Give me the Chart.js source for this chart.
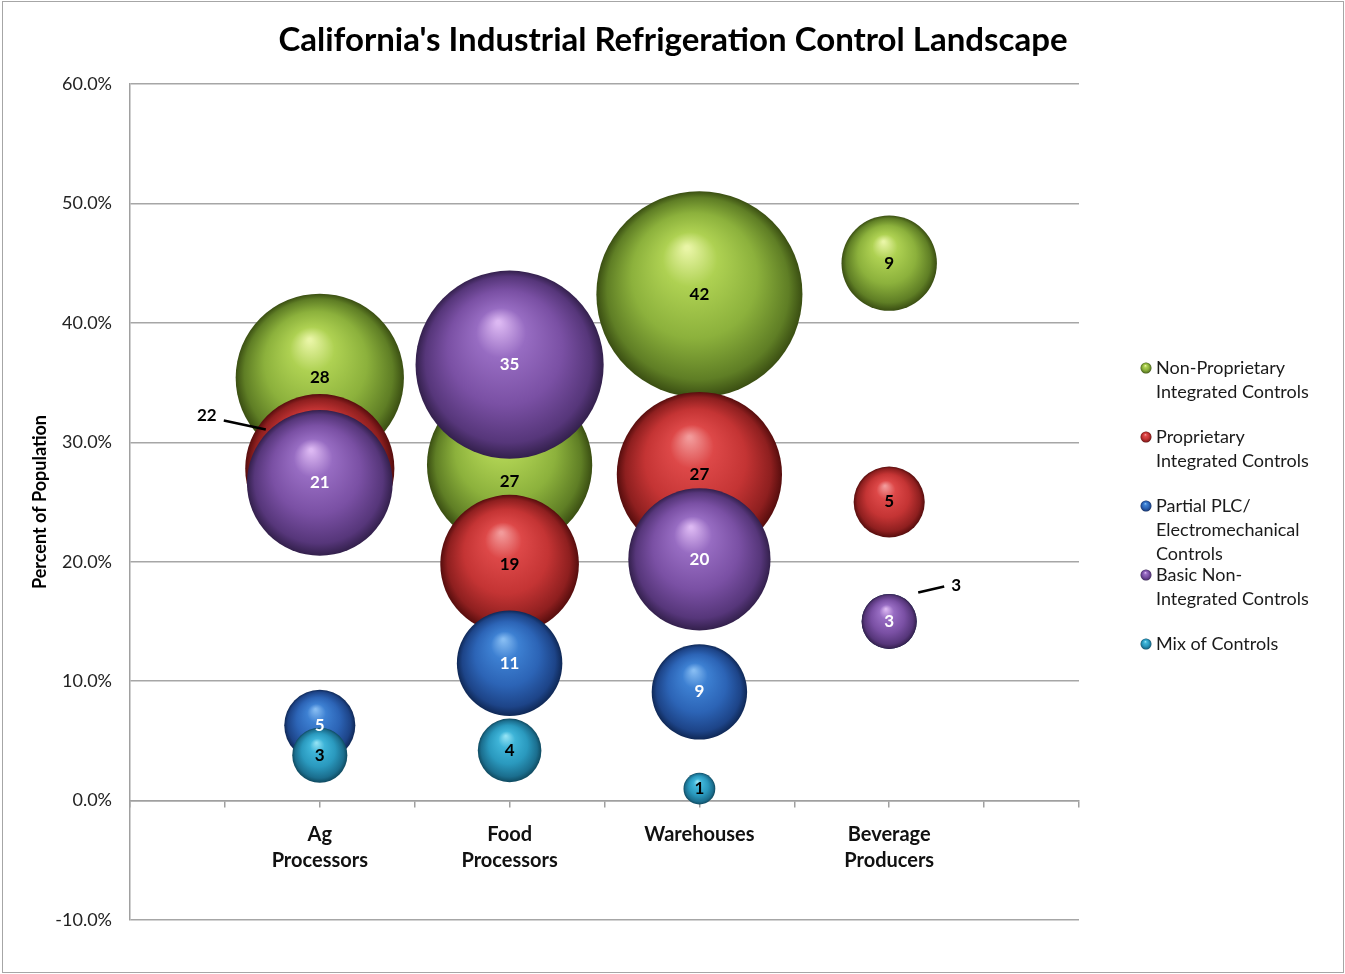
<!DOCTYPE html>
<html>
<head>
<meta charset="utf-8">
<script src="https://cdn.jsdelivr.net/npm/chart.js@4/dist/chart.umd.min.js"></script>
<style>
  html, body { margin: 0; padding: 0; background: #fff; }
  canvas { display: block; }
</style>
</head>
<body>
<canvas id="bubbleChart" width="1345" height="974"></canvas>
<script>
// categories sit at x = 1..4
const chartTitle = "California's Industrial Refrigeration Control Landscape";
const categories = [['Ag', 'Processors'], ['Food', 'Processors'], ['Warehouses'], ['Beverage', 'Producers']];
const seriesNames = [
    ['Non-Proprietary', 'Integrated Controls'],
    ['Proprietary', 'Integrated Controls'],
    ['Partial PLC/', 'Electromechanical', 'Controls'],
    ['Basic Non-', 'Integrated Controls'],
    ['Mix of Controls']
];

// counts (bubble size) and percent of population (y)
const nonPropCount = [28, 27, 42, 9];
const nonPropPct = [35.4, 28.1, 42.4, 45.0];
const propCount = [22, 19, 27, 5];
const propPct = [27.8, 19.8, 27.3, 25.0];
const plcCount = [5, 11, 9, 3];
const plcPct = [6.3, 11.5, 9.1, 15.0];
const basicCount = [21, 35, 20, 3];
const basicPct = [26.6, 36.5, 20.2, 15.0];
const mixCount = [3, 4, 1, null];
const mixPct = [3.8, 4.2, 1.0, null];

const yTicks = [-10, 0, 10, 20, 30, 40, 50, 60];

const palettes = [
    { hi: '#e9f5a6', light: '#aed152', base: '#8cb13c', dark: '#5f7e25', edge: '#3a4e12', text: '#000' },
    { hi: '#f29a9a', light: '#dd4848', base: '#c43434', dark: '#8e1f1f', edge: '#560d0d', text: '#000' },
    { hi: '#86bcf2', light: '#3d80d2', base: '#2c64b6', dark: '#1d4488', edge: '#0f2856', text: '#fff' },
    { hi: '#dcb8f2', light: '#976cc2', base: '#7a50a4', dark: '#56367a', edge: '#33204c', text: '#fff' },
    { hi: '#92e2f4', light: '#3eb4d8', base: '#2a99be', dark: '#1b6e8e', edge: '#0f4a60', text: '#000' }
];

const counts = [nonPropCount, propCount, plcCount, basicCount, mixCount];
const pcts = [nonPropPct, propPct, plcPct, basicPct, mixPct];

const PX_PER_ROOT = 15.9;
function bubbleRadius(count) {
    return PX_PER_ROOT * Math.sqrt(count);
}

function sphereGradient(ctx2d, cx, cy, r, pal) {
    const g = ctx2d.createRadialGradient(cx - r * 0.12, cy - r * 0.45, r * 0.02, cx, cy, r);
    g.addColorStop(0, pal.hi);
    g.addColorStop(0.25, pal.light);
    g.addColorStop(0.6, pal.base);
    g.addColorStop(0.88, pal.dark);
    g.addColorStop(1, pal.edge);
    return g;
}

function buildPoints(countArr, pctArr) {
    const pts = [];
    countArr.forEach((c, i) => {
        if (c == null) return;
        pts.push({ x: i + 1, y: pctArr[i], count: c });
    });
    return pts;
}

const datasets = seriesNames.map((name, s) => ({
    label: name.join(' '),
    data: buildPoints(counts[s], pcts[s]),
    order: 5 - s,
    borderWidth: 0,
    radius: ctx => ctx.raw ? bubbleRadius(ctx.raw.count) : 0,
    hoverRadius: 0,
    clip: false,
    backgroundColor: ctx => {
        const chart = ctx.chart;
        const xs = chart.scales.x, ys = chart.scales.y;
        if (!ctx.raw || !xs || !ys) return palettes[s].base;
        const cx = xs.getPixelForValue(ctx.raw.x);
        const cy = ys.getPixelForValue(ctx.raw.y);
        const r = bubbleRadius(ctx.raw.count);
        if (!Number.isFinite(cx) || !Number.isFinite(cy) || !Number.isFinite(r)) return palettes[s].base;
        return sphereGradient(chart.ctx, cx, cy, r, palettes[s]);
    }
}));

// labels that were moved off their bubble (dataset index : point index)
const callouts = {
    '1:0': { dx: -113, dy: -53, line: [-96, -48, -54, -39] },
    '2:3': { dx: 67, dy: -36, line: [29, -29, 55, -35] },
    '0:1': { dx: 0, dy: 17 }
};

const bubbleLabels = {
    id: 'bubbleLabels',
    afterDatasetsDraw(chart) {
        const c = chart.ctx;
        c.save();
        c.font = 'bold 17px Lato';
        c.textAlign = 'center';
        c.textBaseline = 'middle';
        chart.data.datasets.forEach((ds, s) => {
            const meta = chart.getDatasetMeta(s);
            meta.data.forEach((el, i) => {
                const pt = ds.data[i];
                const co = callouts[s + ':' + i];
                let x = el.x, y = el.y;
                c.fillStyle = palettes[s].text;
                if (co) {
                    x += co.dx; y += co.dy;
                    if (co.line) {
                        c.fillStyle = '#000';
                        c.strokeStyle = '#000';
                        c.lineWidth = 2.5;
                        c.beginPath();
                        c.moveTo(el.x + co.line[0], el.y + co.line[1]);
                        c.lineTo(el.x + co.line[2], el.y + co.line[3]);
                        c.stroke();
                    }
                }
                c.fillText(String(pt.count), x, y);
            });
        });
        c.restore();
    }
};

const sideLegend = {
    id: 'sideLegend',
    afterDraw(chart) {
        const c = chart.ctx;
        c.save();
        // title, centred on the whole picture
        c.font = 'bold 33px Lato';
        c.fillStyle = '#000';
        c.textAlign = 'center';
        c.textBaseline = 'middle';
        c.fillText(chartTitle, 673, 40);

        c.font = '18px Lato';
        c.textAlign = 'left';
        seriesNames.forEach((lines, s) => {
            const y0 = 368 + s * 69;
            const mx = 1146;
            c.fillStyle = sphereGradient(c, mx, y0, 5.5, palettes[s]);
            c.beginPath();
            c.arc(mx, y0, 5.5, 0, Math.PI * 2);
            c.fill();
            c.fillStyle = '#1a1a1a';
            lines.forEach((t, k) => c.fillText(t, 1156, y0 + k * 24));
        });
        // outer frame
        c.strokeStyle = '#a6a6a6';
        c.lineWidth = 1;
        c.strokeRect(2.5, 1.5, 1341, 971);
        c.restore();
    }
};

new Chart(document.getElementById('bubbleChart').getContext('2d'), {
    type: 'bubble',
    data: { datasets: datasets },
    plugins: [bubbleLabels, sideLegend],
    options: {
        responsive: false,
        animation: false,
        events: [],
        layout: { autoPadding: false, padding: { left: 0, right: 266, top: 84, bottom: 54 } },
        plugins: {
            legend: { display: false },
            tooltip: { enabled: false },
            title: { display: false }
        },
        scales: {
            x: {
                type: 'linear',
                min: 0,
                max: 5,
                position: { y: 0 },
                afterFit: scale => { scale.height = 0; },
                border: { display: true, color: '#a0a0a0', width: 1.5 },
                grid: { drawOnChartArea: false, drawTicks: true, tickLength: 6, color: '#a0a0a0', lineWidth: 1.5 },
                ticks: {
                    stepSize: 0.5,
                    autoSkip: false,
                    maxRotation: 0,
                    padding: 15,
                    color: '#111',
                    font: { family: 'Lato', size: 20, weight: 'bold', lineHeight: 1.3 },
                    callback: v => (Number.isInteger(v) && v >= 1 && v <= categories.length) ? categories[v - 1] : ''
                }
            },
            y: {
                min: -10,
                max: 60,
                border: { display: true, color: '#a0a0a0', width: 1.5 },
                grid: { drawTicks: false, color: '#a6a6a6', lineWidth: 1.5 },
                afterFit: scale => { scale.width = 130; },
                afterBuildTicks: scale => { scale.ticks = yTicks.map(v => ({ value: v })); },
                ticks: {
                    padding: 18,
                    color: '#222',
                    font: { family: 'Lato', size: 18 },
                    callback: v => v.toFixed(1) + '%'
                },
                title: {
                    display: true,
                    text: 'Percent of Population',
                    color: '#000',
                    font: { family: 'Lato', size: 18, weight: 'bold' },
                    padding: { top: 29, bottom: 0 }
                }
            }
        }
    }
});
</script>
</body>
</html>
